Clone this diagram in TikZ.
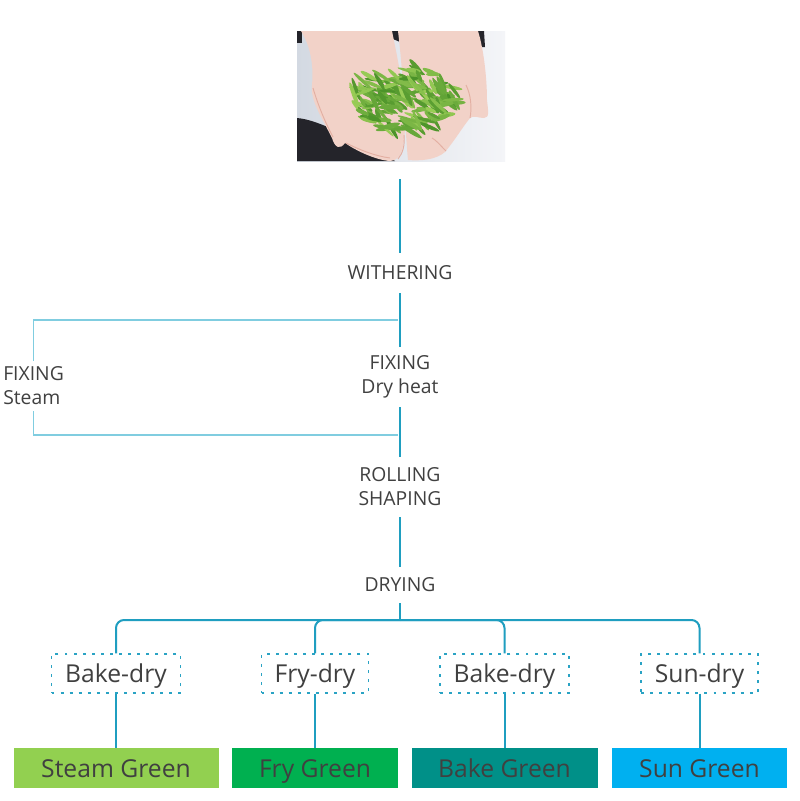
\documentclass[tikz,border=0pt]{standalone}
\usepackage{fontspec}
\setmainfont{Open Sans}
\usetikzlibrary{calc}
\definecolor{mainc}{HTML}{1F9EC0}
\definecolor{brkc}{HTML}{80CDE0}
\definecolor{dashc}{HTML}{2AA3C4}
\definecolor{txt}{HTML}{404040}
\definecolor{steamc}{HTML}{92D050}
\definecolor{fryc}{HTML}{00B050}
\definecolor{bakec}{HTML}{009088}
\definecolor{sunc}{HTML}{00B0F0}
\definecolor{photobgL}{HTML}{D3D9E2}
\definecolor{photobgR}{HTML}{F4F5F8}
\definecolor{darkc}{HTML}{24242A}
\definecolor{skin}{HTML}{F2D2C8}
\definecolor{skinb}{HTML}{E3AFA2}
\definecolor{leafA}{HTML}{3F8A22}
\definecolor{leafB}{HTML}{A6D65E}
\tikzset{
  proc/.style={font=\fontsize{14.5}{18}\selectfont, text=txt, align=center, inner sep=0pt},
  mainl/.style={draw=mainc, line width=1.5pt},
  brkl/.style={draw=brkc, line width=1.1pt},
  dbox/.style={draw=dashc, dash pattern=on 2.2pt off 4.6pt, line width=1.1pt,
     minimum height=29.25pt, inner sep=0pt, text height=15.75pt, text depth=2.25pt,
     font=\fontsize{18.5}{22}\selectfont, text=txt},
  gbox/.style={minimum height=30pt, inner sep=0pt, text height=15.75pt, text depth=2.25pt,
     font=\fontsize{18.5}{22}\selectfont, text=txt},
}
\begin{document}
\begin{tikzpicture}[x=0.75pt,y=-0.75pt]
\useasboundingbox (0,0) rectangle (800,801);
\fill[white] (0,0) rectangle (800,801);

% ---------- photo ----------
\begin{scope}
  \clip (297,31) rectangle (505,161);
  \shade[left color=photobgL, right color=photobgR] (297,31) rectangle (505,161);
  \fill[darkc] (297,31) rectangle (302,43);
  \fill[darkc] (383,31) -- (400,31) -- (400,42) .. controls (393,40) .. (386,36) -- cycle;
  \fill[darkc] (477,31) -- (484,31) -- (485,47) -- (481,47) -- cycle;
  \fill[darkc] (297,118) .. controls (320,120) and (350,138) .. (395,161) -- (297,161) -- cycle;
  % left hand
  \fill[skin] (301,31) -- (392,31) .. controls (400,70) and (408,110) .. (404,140)
     .. controls (402,155) and (398,160) .. (390,161)
     .. controls (375,160) and (355,150) .. (345,143)
     .. controls (340,150) and (335,148) .. (332,138)
     .. controls (322,118) and (310,100) .. (312,85)
     .. controls (314,65) and (310,45) .. (301,31) -- cycle;
  % right hand
  \fill[skin] (398,31) -- (478,31) .. controls (484,50) and (487,80) .. (487,100)
     .. controls (488,110) and (490,118) .. (484,118)
     .. controls (478,118) and (474,115) .. (470,118)
     .. controls (462,128) and (455,140) .. (445,152)
     .. controls (436,160) and (420,161) .. (408,160)
     .. controls (405,130) and (404,80) .. (398,31) -- cycle;
  \draw[skinb, line width=0.7pt] (346,143) .. controls (360,150) and (375,156) .. (390,158);
  \draw[skinb, line width=0.7pt] (404,135) .. controls (405,145) and (403,153) .. (398,159);
  \draw[skinb, line width=0.7pt] (470,118) .. controls (472,108) and (471,95) .. (466,85);
  \draw[skinb, line width=0.7pt] (446,151) .. controls (440,145) and (436,140) .. (432,138);
  \draw[skinb, line width=0.7pt] (313,88) .. controls (318,105) and (325,122) .. (333,137);
  % leaves
  \pgfmathsetseed{7}
  \foreach \i in {1,...,170}{
    \pgfmathsetmacro\rr{sqrt(rnd)}
    \pgfmathsetmacro\tt{360*rnd}
    \pgfmathsetmacro\cx{404+52*\rr*cos(\tt)}
    \pgfmathsetmacro\cy{99+33*\rr*sin(\tt)}
    \pgfmathsetmacro\ang{-75+95*rnd}
    \pgfmathsetmacro\len{6+7*rnd}
    \pgfmathsetmacro\wd{1.4+1.0*rnd}
    \pgfmathtruncatemacro\g{10+80*rnd}
    \fill[color=leafA!\g!leafB, rotate around={\ang:(\cx,\cy)}]
       (\cx,\cy) ellipse [x radius=\len, y radius=\wd];
  }
\end{scope}
\node[minimum width=156pt, minimum height=97.5pt, inner sep=0pt] (photo) at (401,96) {};

% ---------- process labels ----------
\node[proc, minimum height=30pt] (withering) at (400,273) {WITHERING};
\node[proc, minimum height=45pt] (fixdry) at (400,377) {FIXING\\Dry heat};
\node[proc, minimum height=45pt] (rolling) at (400,487) {ROLLING\\SHAPING};
\node[proc, minimum height=27pt] (drying) at (400,585) {DRYING};
\node[proc, align=left, minimum height=37.5pt, anchor=west] (fixsteam) at (3,386) {FIXING\\Steam};

\coordinate (bt) at (398,320);
\coordinate (bb) at (398,435);
\coordinate (j) at (400,620);

% ---------- bottom boxes ----------
\node[dbox, minimum width=96.75pt] (bd1) at (116,673.5) {Bake-dry};
\node[dbox, minimum width=80.25pt] (fd) at (315,673.5) {Fry-dry};
\node[dbox, minimum width=96.75pt] (bd2) at (504.5,673.5) {Bake-dry};
\node[dbox, minimum width=87.75pt] (sd) at (699.5,673.5) {Sun-dry};

\node[gbox, fill=steamc, minimum width=153.75pt] (sg) at (116,768) {Steam Green};
\node[gbox, fill=fryc, minimum width=124.5pt] (fg) at (315,768) {Fry Green};
\node[gbox, fill=bakec, minimum width=139.5pt] (bg) at (504.5,768) {Bake Green};
\node[gbox, fill=sunc, minimum width=131.25pt] (sug) at (699.5,768) {Sun Green};

% ---------- connectors ----------
\draw[mainl, shorten <=13.5pt] (withering.north |- photo.south) -- (withering.north);
\draw[mainl] (withering.south) -- (fixdry.north);
\draw[mainl] (fixdry.south) -- (rolling.north);
\draw[mainl] (rolling.south) -- (drying.north);
\draw[mainl] (drying.south) -- (j);
\draw[brkl] (bt) -| (fixsteam.north);
\draw[brkl] (bb) -| (fixsteam.south);

\draw[mainl, rounded corners=6pt] (bd1.north) |- (j) -| (sd.north);
\draw[mainl, rounded corners=6pt] (fd.north) |- (j);
\draw[mainl, rounded corners=6pt] (bd2.north) |- (j);

\draw[mainl] (bd1.south) -- (sg.north);
\draw[mainl] (fd.south) -- (fg.north);
\draw[mainl] (bd2.south) -- (bg.north);
\draw[mainl] (sd.south) -- (sug.north);
\end{tikzpicture}
\end{document}
